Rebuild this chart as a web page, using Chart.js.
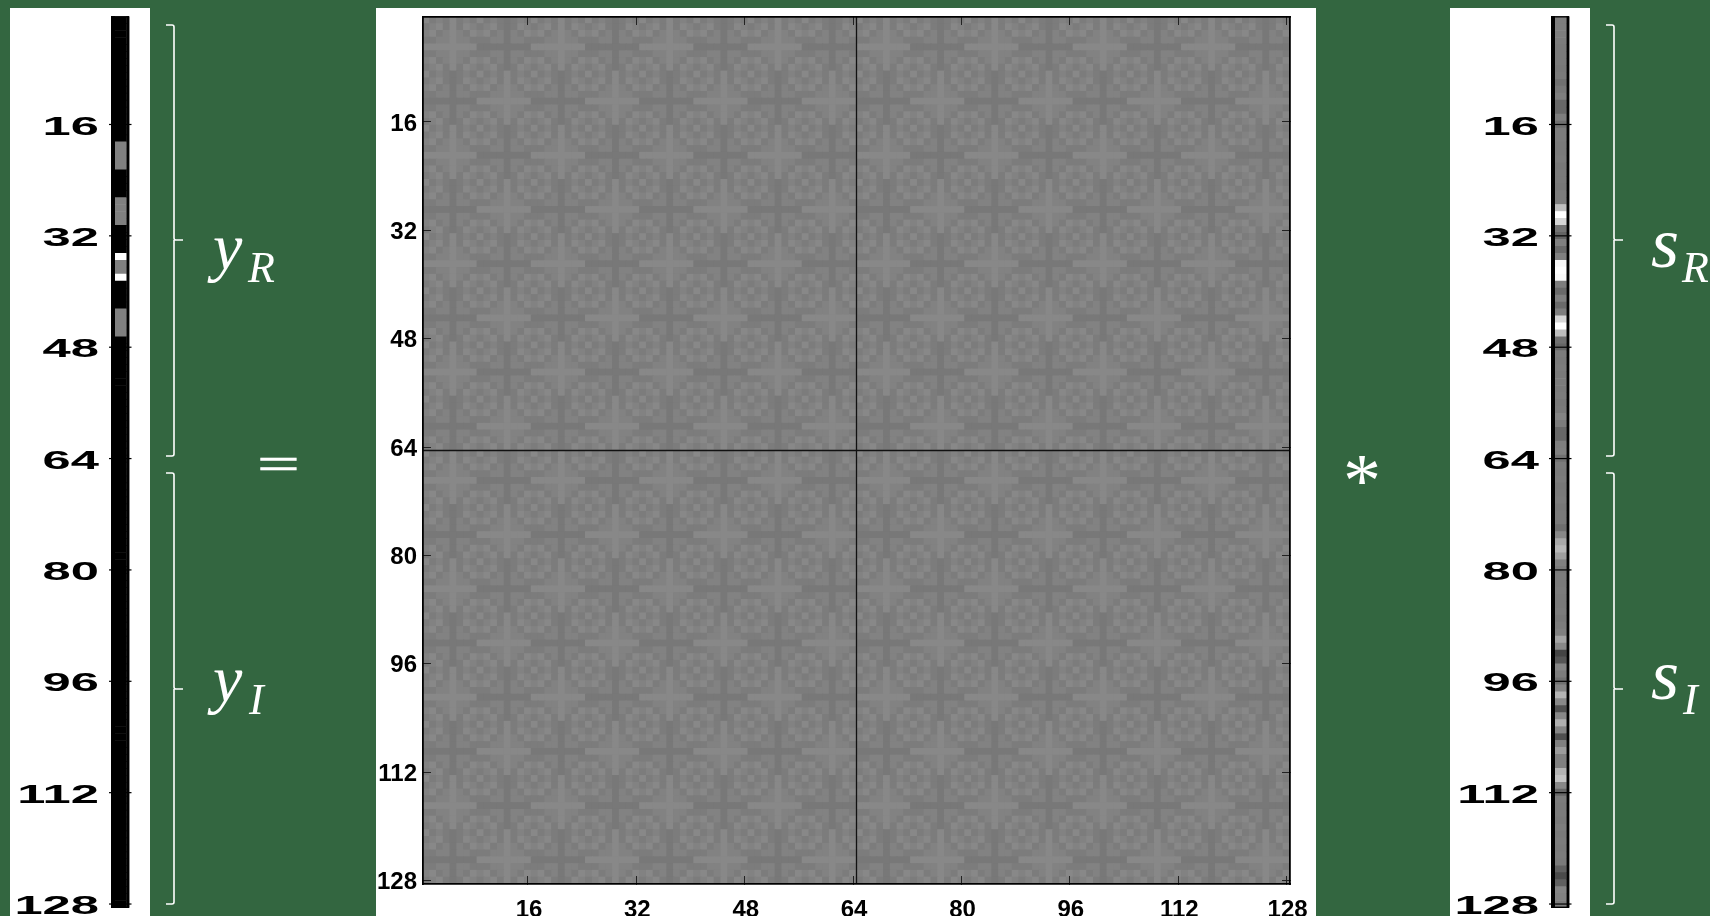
<!DOCTYPE html>
<html>
<head>
<meta charset="utf-8">
<title>y = A * s</title>
<script src="https://cdn.jsdelivr.net/npm/chart.js@4"></script>
<style>
  html, body { margin: 0; height: 100%; background: #336640; overflow: hidden; }
  .panel { position: absolute; top: 8px; height: 908px; background: #fff; }
  .panel canvas { display: block; }
  #panelY { left: 10px; width: 140px; }
  #panelA { left: 376px; width: 940px; }
  #panelS { left: 1450px; width: 140px; }
  .sym { position: absolute; color: #fff; font-family: "Liberation Serif", serif; line-height: 1; white-space: nowrap; }
  .it { font-style: italic; }
  #brackets { position: absolute; left: 0; top: 0; }
</style>
</head>
<body>
<div class="panel" id="panelY"><canvas id="vectorY" width="140" height="908"></canvas></div>
<div class="panel" id="panelA"><canvas id="matrixA" width="940" height="908"></canvas></div>
<div class="panel" id="panelS"><canvas id="vectorS" width="140" height="908"></canvas></div>

<svg id="brackets" width="1710" height="916" fill="none" stroke="#fff" stroke-width="1.6">
  <path d="M166 25 H172 Q174 25 174 27 V238 Q174 240 176 240 H183 M174 240 V454 Q174 456 172 456 H166" />
  <path d="M166 473 H172 Q174 473 174 475 V687 Q174 689 176 689 H183 M174 689 V902 Q174 904 172 904 H166" />
  <path d="M1606 25 H1612 Q1614 25 1614 27 V238 Q1614 240 1616 240 H1623 M1614 240 V454 Q1614 456 1612 456 H1606" />
  <path d="M1606 473 H1612 Q1614 473 1614 475 V687 Q1614 689 1616 689 H1623 M1614 689 V902 Q1614 904 1612 904 H1606" />
</svg>

<div class="sym it" style="left:213px;top:214px;font-size:66px">y</div>
<div class="sym it" style="left:248px;top:246px;font-size:44px">R</div>
<div class="sym it" style="left:213px;top:646px;font-size:66px">y</div>
<div class="sym it" style="left:249px;top:678px;font-size:44px">I</div>
<div class="sym" style="left:257px;top:425px;font-size:76px;transform:scaleY(.65);-webkit-text-stroke:.8px #fff">=</div>
<div class="sym" style="left:1343px;top:442px;font-size:76px">*</div>
<div class="sym it" style="left:1651px;top:207px;font-size:72px">s</div>
<div class="sym it" style="left:1682px;top:246px;font-size:44px">R</div>
<div class="sym it" style="left:1651px;top:639px;font-size:72px">s</div>
<div class="sym it" style="left:1683px;top:678px;font-size:44px">I</div>

<script>
// ---- data ----
const vectorTicks = [16, 32, 48, 64, 80, 96, 112, 128];
const matrixTicks = [16, 32, 48, 64, 80, 96, 112, 128];

// gray level of each cell, top to bottom
const yValues = [
  0, 0, 0, 0, 0, 0, 0, 0, 0, 0, 0, 0, 0, 0, 0, 0,
  0, 0, 128, 128, 128, 128, 0, 0, 0, 0, 128, 128, 128, 128, 0, 0,
  0, 0, 255, 128, 128, 255, 0, 0, 0, 0, 128, 128, 128, 128, 0, 0,
  0, 0, 0, 0, 0, 0, 0, 0, 0, 0, 0, 0, 0, 0, 0, 0,
  0, 0, 0, 0, 0, 0, 0, 0, 0, 0, 0, 0, 0, 0, 0, 0,
  0, 0, 0, 0, 0, 0, 0, 0, 0, 0, 0, 0, 0, 0, 0, 0,
  0, 0, 0, 0, 0, 0, 0, 0, 0, 0, 0, 0, 0, 0, 0, 0,
  0, 0, 0, 0, 0, 0, 0, 0, 0, 0, 0, 0, 0, 0, 0, 0
];
const sValues = [
  126, 126, 126, 124, 122, 122, 122, 120, 122, 112, 120, 126, 104, 104, 126, 112,
  124, 124, 122, 122, 124, 120, 122, 122, 120, 124, 124, 190, 255, 214, 116, 100,
  128, 106, 128, 248, 255, 250, 126, 106, 128, 106, 126, 214, 255, 190, 112, 102,
  124, 122, 124, 122, 124, 122, 124, 120, 122, 132, 124, 104, 104, 126, 128, 112,
  124, 122, 124, 120, 122, 124, 120, 122, 122, 111, 136, 168, 184, 160, 128, 122,
  124, 122, 124, 122, 122, 124, 120, 124, 128, 164, 136, 68, 85, 133, 124, 112,
  133, 180, 136, 80, 136, 176, 133, 80, 128, 156, 128, 128, 180, 196, 136, 102,
  124, 122, 124, 122, 126, 122, 124, 122, 124, 122, 96, 74, 96, 133, 130, 124
];

// one 16x16 block of the matrix, a = dark ... d = light, estimated from the crops
const matrixTile = [
  'dbcbdbcbdbcbabcb',
  'bcdbdbdcbcdbabdc',
  'cdbcdcbdcdbcacbd',
  'bbccdccbbbccaccb',
  'ddddddddaaaaaaaa',
  'bbccdccbbbccaccb',
  'cdbcdcbdcdbcacbd',
  'bcdbdbdcbcdbabdc',
  'dbcbabcbdbcbdbcb',
  'bcdbabdcbcdbdbdc',
  'cdbcacbdcdbcdcbd',
  'bbccaccbbbccdccb',
  'aaaaaaaadddddddd',
  'bbccaccbbbccdccb',
  'cdbcacbdcdbcdcbd',
  'bcdbabdcbcdbdbdc'
];
const tileGrays = { a: 120, b: 124, c: 130, d: 136 };
const splitAt = [64.5, 64.5];
const splitSpan = [0.5, 128.5];

// ---- helpers ----
const gray = v => `rgb(${v},${v},${v})`;

const matrixPoints = [];
const matrixColors = [];
for (let row = 0; row < 128; row++) {
  for (let col = 0; col < 128; col++) {
    matrixPoints.push({ x: col + 1, y: row + 1 });
    matrixColors.push(gray(tileGrays[matrixTile[row % 16][col % 16]]));
  }
}

// frame, ticks and the wide stretched labels of the two vectors
const vectorDecor = {
  id: 'vectorDecor',
  afterDatasetsDraw(chart) {
    const { ctx, chartArea: a, scales } = chart;
    ctx.save();
    ctx.fillStyle = '#000';
    ctx.fillRect(a.left, a.top - 0.5, 4, a.height + 1);
    ctx.fillRect(a.right - 3, a.top - 0.5, 2.6, a.height + 1);
    ctx.fillRect(a.left, a.top - 0.5, a.width - 0.4, 1.4);
    ctx.fillRect(a.left, a.bottom - 0.9, a.width - 0.4, 1.4);
    ctx.fillStyle = '#777';
    ctx.fillRect(a.right - 0.4, a.top, 0.8, a.height);
    vectorTicks.forEach(t => {
      const y = scales.y.getPixelForValue(t);
      ctx.fillStyle = '#000';
      ctx.fillRect(a.left - 2, y - 0.6, a.width + 4, 1.2);
      ctx.save();
      ctx.scale(1.95, 1);
      ctx.font = 'bold 26px "Liberation Sans", Arial, sans-serif';
      ctx.textAlign = 'right';
      ctx.textBaseline = 'middle';
      ctx.fillText(String(t), 89 / 1.95, y + 3);
      ctx.restore();
    });
    ctx.restore();
  }
};

function vectorChart(id, values) {
  return new Chart(document.getElementById(id), {
    type: 'bar',
    plugins: [vectorDecor],
    data: {
      datasets: [{
        data: values.map((v, i) => ({ x: 1, y: i + 1 })),
        backgroundColor: values.map(gray),
        borderWidth: 0,
        barPercentage: 1,
        categoryPercentage: 1
      }]
    },
    options: {
      indexAxis: 'y',
      responsive: false,
      animation: false,
      layout: { padding: { left: 101, right: 20.5, top: 8.6, bottom: 8.5 } },
      plugins: { legend: { display: false }, tooltip: { enabled: false } },
      scales: {
        x: { type: 'linear', display: false, min: -0.348, max: 1.26 },
        y: {
          type: 'linear',
          display: false,
          offset: false,
          grid: { offset: false },
          reverse: true,
          min: 0.5,
          max: 128.5,
          afterBuildTicks: s => { s.ticks = vectorTicks.map(value => ({ value })); }
        }
      }
    }
  });
}

vectorChart('vectorY', yValues);
vectorChart('vectorS', sValues);

// inward ticks on all four sides, labels only left and bottom
function matrixAxis(position, size, labelled, reverse) {
  const horizontal = position === 'top' || position === 'bottom';
  return {
    type: 'linear',
    position,
    reverse,
    min: 0.5,
    max: 128.5,
    afterBuildTicks: s => { s.ticks = matrixTicks.map(value => ({ value })); },
    afterFit: s => {
      if (horizontal) s.height = size; else s.width = size;
      s.paddingLeft = s.paddingRight = s.paddingTop = s.paddingBottom = 0;
    },
    grid: { drawOnChartArea: false, tickLength: -8, color: '#222', lineWidth: 1, z: 1 },
    border: { color: '#000', width: 1.8, z: 1 },
    ticks: {
      display: labelled,
      autoSkip: false,
      maxRotation: 0,
      labelOffset: horizontal ? 1 : 2,
      padding: horizontal ? 20 : 14,
      color: '#000',
      font: { family: '"Liberation Sans", Arial, sans-serif', size: 24, weight: 'bold' }
    }
  };
}

new Chart(document.getElementById('matrixA'), {
  type: 'scatter',
  data: {
    datasets: [
      {
        type: 'line',
        data: splitAt.map((x, i) => ({ x, y: splitSpan[i] })),
        borderColor: '#111',
        borderWidth: 1.3,
        pointRadius: 0,
        order: 0
      },
      {
        type: 'line',
        data: splitAt.map((y, i) => ({ x: splitSpan[i], y })),
        borderColor: '#111',
        borderWidth: 1.3,
        pointRadius: 0,
        order: 0
      },
      {
        data: matrixPoints,
        pointStyle: 'rect',
        pointRadius: 5.6,
        pointBorderWidth: 0,
        pointBackgroundColor: matrixColors,
        order: 1
      }
    ]
  },
  options: {
    responsive: false,
    animation: false,
    plugins: { legend: { display: false }, tooltip: { enabled: false } },
    scales: {
      x: matrixAxis('bottom', 32, true, false),
      top: matrixAxis('top', 9, false, false),
      y: matrixAxis('left', 47, true, true),
      right: matrixAxis('right', 26, false, true)
    }
  }
});
</script>
</body>
</html>
